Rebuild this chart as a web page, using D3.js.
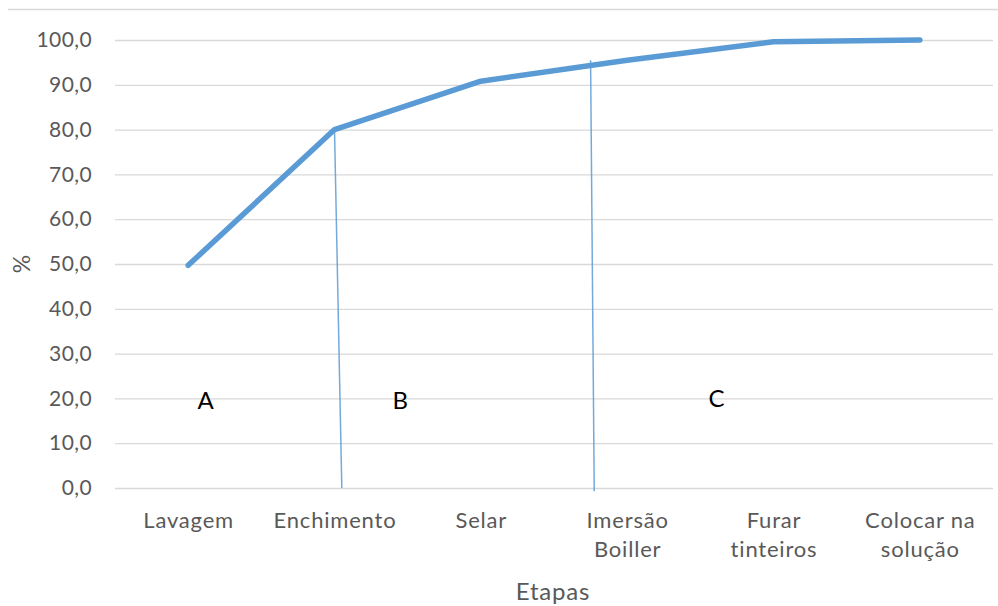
<!DOCTYPE html>
<html>
<head>
<meta charset="utf-8">
<script src="https://cdn.jsdelivr.net/npm/d3@7"></script>
<style>
  html, body { margin: 0; padding: 0; background: #fff; }
  svg { display: block; }
</style>
</head>
<body>
<svg id="chart" width="998" height="606"></svg>
<script>
// ---- data ----
const categories = [["Lavagem"], ["Enchimento"], ["Selar"], ["Imersão", "Boiller"], ["Furar", "tinteiros"], ["Colocar na", "solução"]];
const values = [49.7, 80.0, 90.8, 95.5, 99.6, 100.0];
const yTicks = [0, 10, 20, 30, 40, 50, 60, 70, 80, 90, 100];
const xTitle = "Etapas";
const yTitle = "%";
// zone dividers, given as (category index, value) pairs
const dividerTopIndex = [1.0, 2.75];
const dividerTopValue = [80.0, 95.5];
const dividerBottomIndex = [1.05, 2.775];
const dividerBottomValue = [0, -0.7];
// zone labels, given as (category index, value)
const zoneLabels = ["A", "B", "C"];
const zoneIndex = [0.12, 1.45, 3.61];
const zoneValue = [19.5, 19.5, 20.1];

// ---- layout ----
const svg = d3.select("#chart");
const plotLeft = 115, plotRight = 993, plotTop = 40, plotBottom = 488;
const font = "Lato, 'Open Sans', sans-serif";
const textGray = "#595959";
const lineBlue = "#5B9BD5";

const keys = categories.map(c => c.join(" "));
const x = d3.scalePoint().domain(keys).range([plotLeft, plotRight]).padding(0.5);
const xi = d3.scaleLinear().domain([0, keys.length - 1]).range([x(keys[0]), x(keys[keys.length - 1])]);
const y = d3.scaleLinear().domain([0, 100]).range([plotBottom, plotTop]);

// top border
svg.append("line").attr("x1", 8).attr("x2", 998).attr("y1", 9.5).attr("y2", 9.5)
  .attr("stroke", "#d9d9d9").attr("stroke-width", 1.5);

// y axis with gridlines
const yAxis = d3.axisLeft(y).tickValues(yTicks)
  .tickSize(-(plotRight - plotLeft)).tickPadding(23)
  .tickFormat(d => d3.format(".1f")(d).replace(".", ","));
const gy = svg.append("g").attr("transform", `translate(${plotLeft},0)`).call(yAxis);
gy.select(".domain").remove();
gy.selectAll(".tick line").attr("stroke", "#d9d9d9").attr("stroke-width", 1.3);
gy.selectAll(".tick text").attr("fill", textGray).attr("font-family", font)
  .attr("font-size", 21).attr("letter-spacing", 0.4);

// x axis labels
const xAxis = d3.axisBottom(x).tickSize(0).tickFormat("");
const gx = svg.append("g").attr("transform", `translate(0,${plotBottom})`).call(xAxis);
gx.select(".domain").remove();
gx.selectAll(".tick").each(function(d, i) {
  const t = d3.select(this).append("text")
    .attr("fill", textGray).attr("font-family", font).attr("font-size", 22)
    .attr("letter-spacing", 0.8).attr("text-anchor", "middle");
  categories[i].forEach((s, j) => {
    t.append("tspan").attr("x", 0).attr("y", 40 + j * 29).text(s);
  });
});

// axis titles
svg.append("text").attr("x", (plotLeft + plotRight) / 2 - 1).attr("y", 600)
  .attr("text-anchor", "middle").attr("fill", textGray).attr("letter-spacing", 0.8)
  .attr("font-family", font).attr("font-size", 24).text(xTitle);
svg.append("text").attr("transform", `translate(30,${(plotTop + plotBottom) / 2}) rotate(-90)`)
  .attr("text-anchor", "middle").attr("fill", textGray)
  .attr("font-family", font).attr("font-size", 23).text(yTitle);

// dividers
svg.append("g").selectAll("line").data(dividerTopIndex).join("line")
  .attr("x1", (d, i) => xi(d)).attr("y1", (d, i) => y(dividerTopValue[i]))
  .attr("x2", (d, i) => xi(dividerBottomIndex[i])).attr("y2", (d, i) => y(dividerBottomValue[i]))
  .attr("stroke", lineBlue).attr("stroke-width", 1.5).attr("stroke-opacity", 0.85);

// main line
const line = d3.line().x((d, i) => x(keys[i])).y(d => y(d));
svg.append("path").datum(values).attr("d", line)
  .attr("fill", "none").attr("stroke", lineBlue).attr("stroke-width", 5.5)
  .attr("stroke-linecap", "round").attr("stroke-linejoin", "round");

// zone labels
svg.append("g").selectAll("text").data(zoneLabels).join("text")
  .attr("x", (d, i) => xi(zoneIndex[i])).attr("y", (d, i) => y(zoneValue[i]))
  .attr("dy", "0.36em").attr("text-anchor", "middle")
  .attr("fill", "#000").attr("font-family", font).attr("font-size", 24)
  .text(d => d);
</script>
</body>
</html>
